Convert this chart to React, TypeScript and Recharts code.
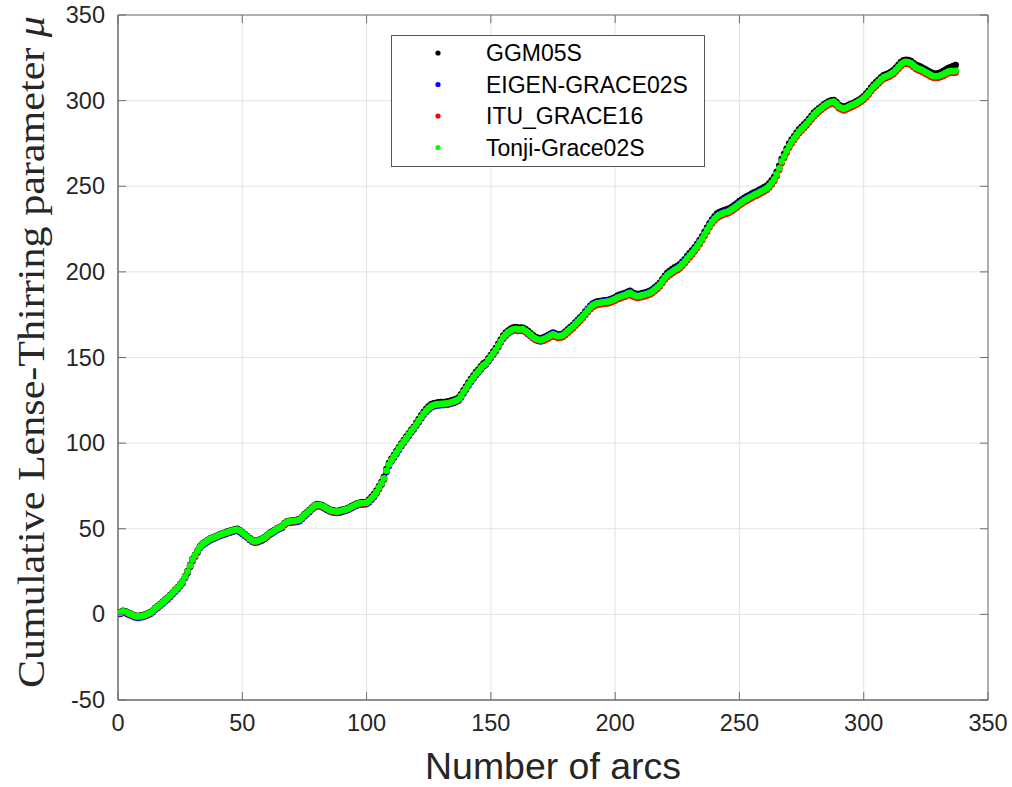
import React from 'react'
import { ScatterChart, Scatter, XAxis, YAxis, CartesianGrid, Legend, Label, ReferenceArea } from 'recharts'

// plot box inside the 1012x787 picture
const P = { left: 118, right: 988, top: 15, bottom: 700 }
const AX = '#6e6e6e'
const SANS = '"Liberation Sans", Arial, Helvetica, sans-serif'

const xTicks = [0, 50, 100, 150, 200, 250, 300, 350]
const yTicks = [-50, 0, 50, 100, 150, 200, 250, 300, 350]

const names = ['GGM05S', 'EIGEN-GRACE02S', 'ITU_GRACE16', 'Tonji-Grace02S']
const colors = ['#000000', '#0000ff', '#ff0000', '#00ff00']

// arc number of each point
const arcs = Array.from({ length: 337 }, (_, i) => i + 1)

const ggm05s = [
  1.3, 2.1, 1.8, 1.1, 0.5, -0.2, -0.7, -1.0, -0.7, -0.5,
  0.0, 0.6, 1.3, 2.3, 3.8, 4.8, 6.1, 7.3, 8.6, 9.8,
  11.3, 12.8, 14.3, 15.8, 17.5, 19.3, 22.3, 25.3, 28.8, 32.3,
  34.8, 37.3, 39.8, 41.3, 42.3, 43.3, 44.3, 44.9, 45.5, 46.1,
  46.8, 47.3, 47.8, 48.3, 48.8, 49.3, 49.7, 49.9, 49.1, 48.1,
  46.9, 45.8, 44.5, 43.5, 42.9, 43.1, 43.7, 44.3, 45.1, 46.3,
  47.6, 48.3, 49.3, 50.3, 50.9, 51.7, 53.3, 54.3, 54.6, 54.8,
  55.0, 55.2, 55.6, 56.9, 58.4, 59.6, 60.9, 62.4, 63.6, 64.4,
  64.2, 63.8, 63.0, 62.2, 61.4, 60.8, 60.6, 60.4, 60.6, 61.0,
  61.4, 61.8, 62.4, 63.2, 64.0, 64.7, 65.2, 65.4, 65.4, 65.6,
  67.0, 68.6, 70.2, 72.3, 74.8, 77.3, 80.3, 84.8, 88.3, 90.8,
  93.1, 95.3, 97.6, 99.8, 101.8, 103.8, 105.8, 107.8, 109.6, 111.8,
  114.0, 116.2, 118.3, 120.0, 121.5, 122.6, 123.2, 123.6, 123.8, 124.0,
  124.0, 124.2, 124.4, 124.8, 125.3, 125.8, 126.6, 128.5, 130.8, 133.0,
  135.3, 137.5, 139.5, 141.5, 143.0, 144.8, 146.5, 147.5, 149.5, 151.5,
  153.5, 155.5, 158.0, 160.5, 162.8, 164.5, 165.8, 166.8, 167.5, 167.8,
  167.3, 167.5, 167.4, 166.5, 165.4, 164.2, 163.0, 162.0, 161.5, 161.2,
  161.6, 162.2, 163.0, 163.8, 164.6, 164.0, 163.4, 163.6, 164.0, 165.2,
  166.5, 167.8, 169.0, 170.5, 172.0, 173.5, 175.0, 176.8, 178.5, 180.2,
  181.5, 182.2, 182.8, 183.0, 183.2, 183.4, 183.6, 184.0, 184.6, 185.2,
  186.2, 186.7, 187.2, 187.7, 188.4, 189.0, 188.0, 187.4, 187.0, 187.2,
  187.6, 188.0, 188.4, 189.0, 189.8, 191.0, 192.2, 193.6, 195.7, 197.7,
  199.4, 200.6, 201.6, 202.6, 203.4, 204.4, 205.9, 207.4, 209.2, 211.0,
  212.6, 214.4, 216.4, 218.6, 220.8, 223.4, 225.9, 228.4, 230.6, 232.4,
  234.0, 234.9, 235.5, 236.1, 236.5, 237.1, 238.0, 239.0, 240.1, 241.3,
  242.3, 243.3, 244.1, 244.9, 245.7, 246.5, 247.1, 247.9, 248.7, 249.5,
  250.3, 251.7, 253.5, 255.5, 258.5, 262.0, 266.0, 269.0, 272.0, 275.0,
  277.2, 279.2, 281.2, 283.2, 284.7, 286.2, 287.7, 289.4, 291.2, 293.0,
  294.2, 295.5, 296.6, 297.8, 298.8, 299.6, 300.2, 300.4, 299.2, 297.6,
  296.8, 296.2, 296.8, 297.6, 298.2, 298.8, 299.6, 300.4, 301.4, 302.5,
  304.2, 305.8, 307.7, 309.4, 310.8, 312.2, 313.6, 314.8, 315.4, 316.0,
  316.9, 317.9, 319.3, 320.9, 322.5, 323.5, 323.9, 323.7, 323.1, 321.9,
  320.9, 320.3, 319.7, 318.9, 318.1, 317.3, 316.5, 315.9, 315.7, 315.9,
  316.5, 317.3, 318.2, 319.0, 319.6, 320.2, 320.8,
]

const eigenGrace02s = [
  0.2, 1.0, 0.7, 0.0, -0.6, -1.3, -1.8, -2.1, -1.8, -1.6,
  -1.1, -0.5, 0.2, 1.2, 2.7, 3.7, 5.0, 6.2, 7.5, 8.7,
  10.2, 11.7, 13.2, 14.7, 16.4, 18.2, 21.2, 24.2, 27.7, 31.2,
  33.7, 36.2, 38.7, 40.2, 41.2, 42.2, 43.2, 43.8, 44.4, 45.0,
  45.7, 46.2, 46.7, 47.2, 47.7, 48.2, 48.6, 48.8, 48.0, 47.0,
  45.8, 44.7, 43.4, 42.4, 41.8, 42.0, 42.6, 43.2, 44.0, 45.2,
  46.5, 47.2, 48.2, 49.2, 49.8, 50.6, 52.2, 53.2, 53.5, 53.7,
  53.8, 54.0, 54.4, 55.7, 57.2, 58.4, 59.7, 61.2, 62.4, 63.2,
  63.0, 62.6, 61.8, 61.0, 60.2, 59.6, 59.4, 59.2, 59.4, 59.8,
  60.2, 60.6, 61.2, 62.0, 62.8, 63.5, 64.0, 64.2, 64.2, 64.4,
  65.4, 67.0, 68.6, 70.7, 73.2, 75.7, 78.7, 83.2, 86.7, 89.2,
  91.5, 93.7, 96.0, 98.2, 100.2, 102.2, 104.2, 106.2, 108.0, 110.2,
  112.2, 114.4, 116.5, 118.2, 119.7, 120.8, 121.4, 121.8, 122.0, 122.2,
  122.2, 122.4, 122.6, 123.0, 123.5, 124.0, 124.8, 126.7, 129.0, 131.2,
  133.5, 135.7, 137.7, 139.7, 141.2, 143.0, 144.7, 145.7, 147.7, 149.7,
  151.7, 153.7, 156.2, 158.7, 161.0, 162.7, 164.0, 165.0, 165.7, 166.0,
  165.5, 165.7, 165.6, 164.7, 163.6, 162.4, 161.2, 160.2, 159.7, 159.4,
  161.1, 161.7, 162.5, 163.3, 164.1, 163.5, 162.9, 163.1, 163.5, 164.7,
  166.0, 167.3, 168.5, 170.0, 171.5, 173.0, 174.5, 176.3, 178.0, 179.7,
  181.0, 181.7, 182.3, 182.5, 182.7, 182.9, 183.1, 183.5, 184.1, 184.7,
  185.5, 186.0, 186.5, 187.0, 187.7, 188.3, 187.3, 186.7, 186.3, 186.5,
  186.9, 187.3, 187.7, 188.3, 189.1, 190.3, 191.5, 192.9, 195.0, 197.0,
  198.5, 199.7, 200.7, 201.7, 202.5, 203.5, 205.0, 206.5, 208.3, 210.1,
  211.7, 213.5, 215.5, 217.7, 219.9, 222.5, 225.0, 227.5, 229.7, 231.5,
  233.0, 233.9, 234.5, 235.1, 235.5, 236.1, 237.0, 238.0, 239.1, 240.3,
  241.3, 242.3, 243.1, 243.9, 244.7, 245.5, 246.1, 246.9, 247.7, 248.5,
  248.6, 250.0, 251.8, 253.8, 256.8, 260.3, 264.3, 267.3, 270.3, 273.3,
  275.8, 277.8, 279.8, 281.8, 283.3, 284.8, 286.3, 288.0, 289.8, 291.6,
  293.0, 294.3, 295.4, 296.6, 297.6, 298.4, 299.0, 299.2, 298.0, 296.4,
  295.6, 295.0, 295.6, 296.4, 297.0, 297.6, 298.4, 299.2, 300.2, 301.3,
  302.8, 304.4, 306.3, 308.0, 309.4, 310.8, 312.2, 313.4, 314.0, 314.6,
  315.4, 316.4, 317.8, 319.4, 321.0, 322.0, 322.4, 322.2, 321.6, 320.4,
  319.2, 318.6, 318.0, 317.2, 316.4, 315.6, 314.8, 314.2, 314.0, 314.2,
  314.6, 315.2, 316.0, 316.8, 317.0, 317.0, 317.2,
]

const ituGrace16 = [
  0.7, 1.5, 1.2, 0.5, -0.1, -0.8, -1.3, -1.6, -1.3, -1.1,
  -0.6, 0.0, 0.7, 1.7, 3.2, 4.2, 5.5, 6.7, 8.0, 9.2,
  10.7, 12.2, 13.7, 15.2, 16.9, 18.7, 21.7, 24.7, 28.2, 31.7,
  34.2, 36.7, 39.2, 40.7, 41.7, 42.7, 43.7, 44.3, 44.9, 45.5,
  46.2, 46.7, 47.2, 47.7, 48.2, 48.7, 49.1, 49.3, 48.5, 47.5,
  46.3, 45.2, 43.9, 42.9, 42.3, 42.5, 43.1, 43.7, 44.5, 45.7,
  47.0, 47.7, 48.7, 49.7, 50.3, 51.1, 52.7, 53.7, 54.0, 54.2,
  54.3, 54.5, 54.9, 56.2, 57.7, 58.9, 60.2, 61.7, 62.9, 63.7,
  63.5, 63.1, 62.3, 61.5, 60.7, 60.1, 59.9, 59.7, 59.9, 60.3,
  60.7, 61.1, 61.7, 62.5, 63.3, 64.0, 64.5, 64.7, 64.7, 64.9,
  65.9, 67.5, 69.1, 71.2, 73.7, 76.2, 79.2, 83.7, 87.2, 89.7,
  92.0, 94.2, 96.5, 98.7, 100.7, 102.7, 104.7, 106.7, 108.5, 110.7,
  112.7, 114.9, 117.0, 118.7, 120.2, 121.3, 121.9, 122.3, 122.5, 122.7,
  122.7, 122.9, 123.1, 123.5, 124.0, 124.5, 125.3, 127.2, 129.5, 131.7,
  134.0, 136.2, 138.2, 140.2, 141.7, 143.5, 145.2, 146.2, 148.2, 150.2,
  152.2, 154.2, 156.7, 159.2, 161.5, 163.2, 164.5, 165.5, 166.2, 166.5,
  165.7, 165.9, 165.8, 164.9, 163.8, 162.6, 161.4, 160.4, 159.9, 159.6,
  159.6, 160.2, 161.0, 161.8, 162.6, 162.0, 161.4, 161.6, 162.0, 163.2,
  164.5, 165.8, 167.0, 168.5, 170.0, 171.5, 173.0, 174.8, 176.5, 178.2,
  179.5, 180.2, 180.8, 181.0, 181.2, 181.4, 181.6, 182.0, 182.6, 183.2,
  184.0, 184.5, 185.0, 185.5, 186.2, 186.8, 185.8, 185.2, 184.8, 185.0,
  185.4, 185.8, 186.2, 186.8, 187.6, 188.8, 190.0, 191.4, 193.5, 195.5,
  197.0, 198.2, 199.2, 200.2, 201.0, 202.0, 203.5, 205.0, 206.8, 208.6,
  210.2, 212.0, 214.0, 216.2, 218.4, 221.0, 223.5, 226.0, 228.2, 230.0,
  231.5, 232.4, 233.0, 233.6, 234.0, 234.6, 235.5, 236.5, 237.6, 238.8,
  239.8, 240.8, 241.6, 242.4, 243.2, 244.0, 244.6, 245.4, 246.2, 247.0,
  247.8, 249.2, 251.0, 253.0, 256.0, 259.5, 263.5, 266.5, 269.5, 272.5,
  275.0, 277.0, 279.0, 281.0, 282.5, 284.0, 285.5, 287.2, 289.0, 290.8,
  292.2, 293.5, 294.6, 295.8, 296.8, 297.6, 298.2, 298.4, 297.2, 295.6,
  294.8, 294.2, 294.8, 295.6, 296.2, 296.8, 297.6, 298.4, 299.4, 300.5,
  302.0, 303.6, 305.5, 307.2, 308.6, 310.0, 311.4, 312.6, 313.2, 313.8,
  314.6, 315.6, 317.0, 318.6, 320.2, 321.2, 321.6, 321.4, 320.8, 319.6,
  318.4, 317.8, 317.2, 316.4, 315.6, 314.8, 314.0, 313.4, 313.2, 313.4,
  313.8, 314.4, 315.2, 316.0, 316.2, 316.2, 316.4,
]

const tonjiGrace02s = [
  1.0, 1.8, 1.5, 0.8, 0.2, -0.5, -1.0, -1.3, -1.0, -0.8,
  -0.3, 0.3, 1.0, 2.0, 3.5, 4.5, 5.8, 7.0, 8.3, 9.5,
  11.0, 12.5, 14.0, 15.5, 17.2, 19.0, 22.0, 25.0, 28.5, 32.0,
  34.5, 37.0, 39.5, 41.0, 42.0, 43.0, 44.0, 44.6, 45.2, 45.8,
  46.5, 47.0, 47.5, 48.0, 48.5, 49.0, 49.4, 49.6, 48.8, 47.8,
  46.6, 45.5, 44.2, 43.2, 42.6, 42.8, 43.4, 44.0, 44.8, 46.0,
  47.3, 48.0, 49.0, 50.0, 50.6, 51.4, 53.0, 54.0, 54.3, 54.5,
  54.6, 54.8, 55.2, 56.5, 58.0, 59.2, 60.5, 62.0, 63.2, 64.0,
  63.8, 63.4, 62.6, 61.8, 61.0, 60.4, 60.2, 60.0, 60.2, 60.6,
  61.0, 61.4, 62.0, 62.8, 63.6, 64.3, 64.8, 65.0, 65.0, 65.2,
  66.2, 67.8, 69.4, 71.5, 74.0, 76.5, 79.5, 84.0, 87.5, 90.0,
  92.3, 94.5, 96.8, 99.0, 101.0, 103.0, 105.0, 107.0, 108.8, 111.0,
  113.0, 115.2, 117.3, 119.0, 120.5, 121.6, 122.2, 122.6, 122.8, 123.0,
  123.0, 123.2, 123.4, 123.8, 124.3, 124.8, 125.6, 127.5, 129.8, 132.0,
  134.3, 136.5, 138.5, 140.5, 142.0, 143.8, 145.5, 146.5, 148.5, 150.5,
  152.5, 154.5, 157.0, 159.5, 161.8, 163.5, 164.8, 165.8, 166.5, 166.8,
  166.3, 166.5, 166.4, 165.5, 164.4, 163.2, 162.0, 161.0, 160.5, 160.2,
  160.6, 161.2, 162.0, 162.8, 163.6, 163.0, 162.4, 162.6, 163.0, 164.2,
  165.5, 166.8, 168.0, 169.5, 171.0, 172.5, 174.0, 175.8, 177.5, 179.2,
  180.5, 181.2, 181.8, 182.0, 182.2, 182.4, 182.6, 183.0, 183.6, 184.2,
  185.0, 185.5, 186.0, 186.5, 187.2, 187.8, 186.8, 186.2, 185.8, 186.0,
  186.4, 186.8, 187.2, 187.8, 188.6, 189.8, 191.0, 192.4, 194.5, 196.5,
  198.0, 199.2, 200.2, 201.2, 202.0, 203.0, 204.5, 206.0, 207.8, 209.6,
  211.2, 213.0, 215.0, 217.2, 219.4, 222.0, 224.5, 227.0, 229.2, 231.0,
  232.5, 233.4, 234.0, 234.6, 235.0, 235.6, 236.5, 237.5, 238.6, 239.8,
  240.8, 241.8, 242.6, 243.4, 244.2, 245.0, 245.6, 246.4, 247.2, 248.0,
  248.8, 250.2, 252.0, 254.0, 257.0, 260.5, 264.5, 267.5, 270.5, 273.5,
  276.0, 278.0, 280.0, 282.0, 283.5, 285.0, 286.5, 288.2, 290.0, 291.8,
  293.2, 294.5, 295.6, 296.8, 297.8, 298.6, 299.2, 299.4, 298.2, 296.6,
  295.8, 295.2, 295.8, 296.6, 297.2, 297.8, 298.6, 299.4, 300.4, 301.5,
  303.0, 304.6, 306.5, 308.2, 309.6, 311.0, 312.4, 313.6, 314.2, 314.8,
  315.6, 316.6, 318.0, 319.6, 321.2, 322.2, 322.6, 322.4, 321.8, 320.6,
  319.4, 318.8, 318.2, 317.4, 316.6, 315.8, 315.0, 314.4, 314.2, 314.4,
  314.8, 315.4, 316.2, 317.0, 317.2, 317.2, 317.4,
]

const series = [ggm05s, eigenGrace02s, ituGrace16, tonjiGrace02s]
const toPoints = (vals: number[]) => vals.map((y, i) => ({ x: arcs[i], y }))

const XTick = ({ x, y, payload }: any) => (
  <g>
    <line x1={x} x2={x} y1={y} y2={y - 8} stroke={AX} />
    <line x1={x} x2={x} y1={P.top} y2={P.top + 8} stroke={AX} />
    <text x={x} y={y + 31} textAnchor="middle" fill="#262626" style={{ fontFamily: SANS, fontSize: 23.5 }}>{payload.value}</text>
  </g>
)

const YTick = ({ x, y, payload }: any) => (
  <g>
    <line x1={x} x2={x + 8} y1={y} y2={y} stroke={AX} />
    <line x1={P.right} x2={P.right - 8} y1={y} y2={y} stroke={AX} />
    <text x={x - 13} y={y + 8} textAnchor="end" fill="#262626" style={{ fontFamily: SANS, fontSize: 23.5 }}>{payload.value}</text>
  </g>
)

const XTitle = (p: any) => {
  const vb = p.viewBox
  const cx = vb ? vb.x + vb.width / 2 : (P.left + P.right) / 2
  return (
    <text x={cx} y={P.bottom + 79} textAnchor="middle" fill="#262626" textLength={256} lengthAdjust="spacingAndGlyphs"
      style={{ fontFamily: SANS, fontSize: 36 }}>Number of arcs</text>
  )
}

const YTitle = () => {
  const cx = 31, cy = 352
  return (
    <text x={cx} y={cy} transform={`rotate(-90 ${cx} ${cy})`} textAnchor="middle" dominantBaseline="central" fill="#262626"
      textLength={672} lengthAdjust="spacingAndGlyphs" style={{ fontFamily: '"Liberation Serif", "DejaVu Serif", serif', fontSize: 38 }}>
      Cumulative Lense-Thirring parameter <tspan fontStyle="italic">μ</tspan>
    </text>
  )
}

const LegendBox = () => (
  <svg width={315} height={133} style={{ display: 'block' }}>
    <rect x={0.5} y={0.5} width={313} height={131} fill="#fff" stroke="#555" />
    {names.map((n, i) => (
      <g key={n}>
        <circle cx={47} cy={18 + i * 31.5} r={2.6} fill={colors[i]} />
        <text x={95} y={26 + i * 31.5} fill="#000" style={{ fontFamily: SANS, fontSize: 23 }}>{n}</text>
      </g>
    ))}
  </svg>
)

const Dot = (color: string) => (props: any) => <circle cx={props.cx} cy={props.cy} r={3.3} fill={color} />

export default function App() {
  return (
    <div style={{ position: 'absolute', left: 0, top: 0, width: 1012, height: 787, background: '#fff' }}>
      <ScatterChart width={1012} height={787} margin={{ top: P.top, right: 1012 - P.right, bottom: 0, left: 0 }}>
        <CartesianGrid stroke="#e3e3e3" strokeWidth={1} />
        <XAxis dataKey="x" type="number" domain={[0, 350]} ticks={xTicks} height={87} tickLine={false} tickSize={0} tickMargin={0}
          axisLine={{ stroke: AX }} tick={<XTick />} allowDataOverflow interval={0}>
          <Label content={XTitle} />
        </XAxis>
        <YAxis dataKey="y" type="number" domain={[-50, 350]} ticks={yTicks} width={P.left} tickLine={false} tickSize={0} tickMargin={0}
          axisLine={{ stroke: AX }} tick={<YTick />} allowDataOverflow interval={0}>
          <Label content={YTitle} />
        </YAxis>
        <ReferenceArea x1={0} x2={350} y1={-50} y2={350} fill="none" stroke={AX} strokeOpacity={1} fillOpacity={0} />
        {series.map((vals, i) => (
          <Scatter key={names[i]} name={names[i]} data={toPoints(vals)} fill={colors[i]} shape={Dot(colors[i])} isAnimationActive={false} />
        ))}
        <Legend layout="vertical" align="center" verticalAlign="middle" content={LegendBox}
          wrapperStyle={{ left: 391, top: 35, width: 315, height: 133 }} />
      </ScatterChart>
    </div>
  )
}
